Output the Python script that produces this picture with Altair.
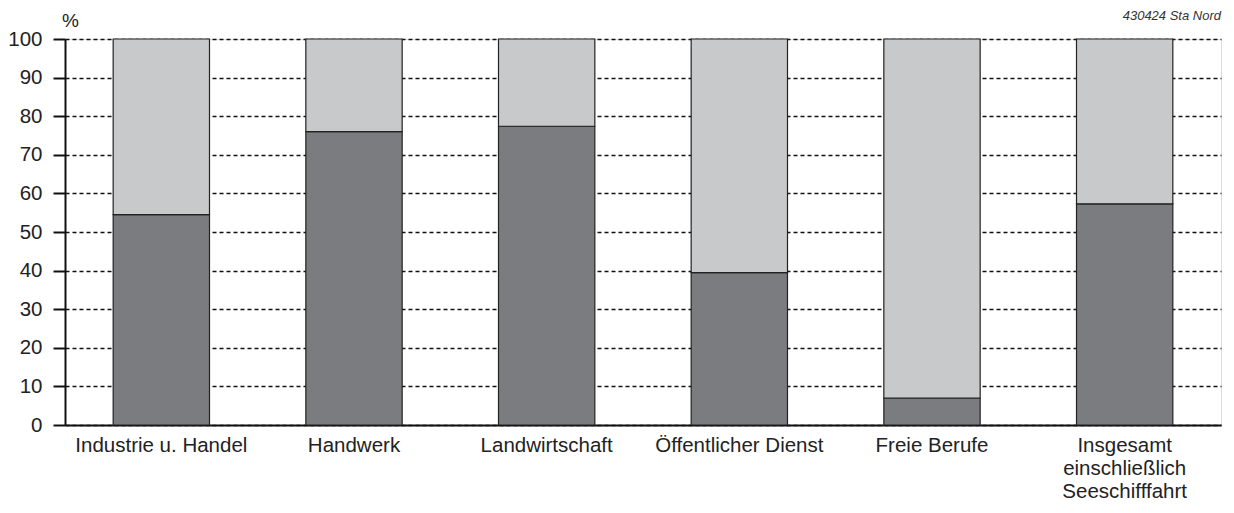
import altair as alt
import pandas as pd

categories = ["Industrie u. Handel", "Handwerk", "Landwirtschaft",
              "Öffentlicher Dienst", "Freie Berufe",
              "Insgesamt\neinschließlich\nSeeschifffahrt"]
dark_values = [54.5, 76.0, 77.4, 39.5, 7.0, 57.3]
light_values = [100 - v for v in dark_values]
series = ["unten", "oben"]

rows = []
for c, d, l in zip(categories, dark_values, light_values):
    rows.append({"Kategorie": c, "Serie": "unten", "Wert": d, "ord": 0})
    rows.append({"Kategorie": c, "Serie": "oben", "Wert": l, "ord": 1})
df = pd.DataFrame(rows)

FONT = "Liberation Sans"
FS = 20.5

bars = alt.Chart(df).mark_bar(stroke="#222222", strokeWidth=1.2).encode(
    x=alt.X("Kategorie:N", sort=categories,
            scale=alt.Scale(paddingInner=0.5, paddingOuter=0.25),
            axis=alt.Axis(title=None, labelAngle=0, labelFontSize=FS,
                          labelFont=FONT, labelColor="#222222",
                          labelPadding=10, ticks=False, domain=True,
                          domainColor="#111111", domainWidth=2,
                          labelLineHeight=23,
                          labelExpr="split(datum.label, '\\n')")),
    y=alt.Y("Wert:Q", stack="zero",
            scale=alt.Scale(domain=[0, 100], nice=False),
            axis=alt.Axis(values=list(range(0, 101, 10)), title="%",
                          titleAngle=0, titleAlign="center",
                          titleBaseline="middle", titleX=5, titleY=-19,
                          titleFont=FONT, titleFontSize=19,
                          titleFontWeight="normal", titleColor="#222222",
                          labelFont=FONT, labelFontSize=FS,
                          labelColor="#222222", labelPadding=11,
                          tickSize=12, tickWidth=2, tickColor="#111111",
                          domainColor="#111111", domainWidth=2,
                          grid=True, gridColor="#111111", gridWidth=1.5,
                          gridDash=[4, 3])),
    color=alt.Color("Serie:N", scale=alt.Scale(domain=series,
                    range=["#7b7c80", "#c8c9cb"]), legend=None),
    order=alt.Order("ord:Q"),
)

source = alt.Chart(pd.DataFrame({"t": ["430424 Sta Nord"]})).mark_text(
    align="right", baseline="middle", font=FONT, fontSize=13,
    fontStyle="italic", color="#333333"
).encode(text="t:N", x=alt.value(1156), y=alt.value(-23))

chart = alt.layer(bars, source).properties(
    width=1156, height=386,
    autosize=alt.AutoSizeParams(type="none"),
    padding={"left": 57, "top": 31, "right": 5, "bottom": 80},
).configure_view(stroke=None).configure(background="white")

chart.save("out.html", embed_options={"renderer": "svg", "actions": False})
